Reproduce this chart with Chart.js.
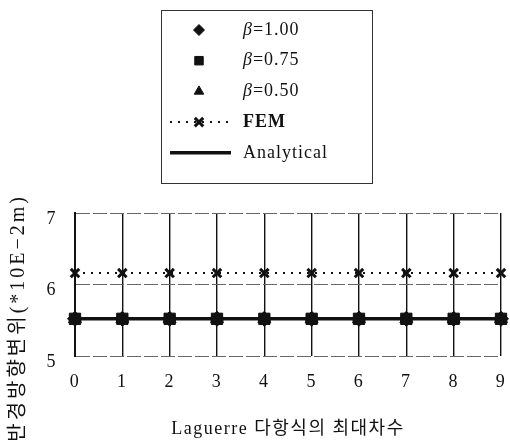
<!DOCTYPE html>
<html>
<head>
<meta charset="utf-8">
<script src="https://cdn.jsdelivr.net/npm/chart.js@4/dist/chart.umd.min.js"></script>
<style>
  html, body { margin: 0; padding: 0; background: #fff; }
  #wrap { width: 510px; height: 441px; position: relative; }
</style>
</head>
<body>
<div id="wrap"><canvas id="laguerreChart"></canvas></div>
<script>
// Laguerre 다항식 최대차수별 반경방향 변위
const orders = ['0', '1', '2', '3', '4', '5', '6', '7', '8', '9'];
const beta100 = [5.52, 5.52, 5.52, 5.52, 5.52, 5.52, 5.52, 5.52, 5.52, 5.52];
const beta075 = [5.52, 5.52, 5.52, 5.52, 5.52, 5.52, 5.52, 5.52, 5.52, 5.52];
const beta050 = [5.52, 5.52, 5.52, 5.52, 5.52, 5.52, 5.52, 5.52, 5.52, 5.52];
const fem = [6.16, 6.16, 6.16, 6.16, 6.16, 6.16, 6.16, 6.16, 6.16, 6.16];
const analytical = [5.52, 5.52, 5.52, 5.52, 5.52, 5.52, 5.52, 5.52, 5.52, 5.52];

const serif = '"Liberation Serif", "Noto Sans CJK KR", serif';

// legend drawn as a framed box above the plot
const boxLegend = {
    id: 'boxLegend',
    afterDraw(chart) {
        const ctx = chart.ctx;
        ctx.save();
        ctx.strokeStyle = '#333';
        ctx.lineWidth = 1;
        ctx.setLineDash([]);
        ctx.strokeRect(161.5, 10.5, 211, 173);

        chart.data.datasets.forEach((ds, i) => {
            const y = 30 + i * 30.7;
            if (ds.showLine !== false) {
                ctx.beginPath();
                ctx.strokeStyle = ds.borderColor;
                ctx.lineWidth = ds.borderWidth;
                ctx.setLineDash(ds.borderDash || []);
                ctx.moveTo(170, y);
                ctx.lineTo(231, y);
                ctx.stroke();
                ctx.setLineDash([]);
            }
            if (ds.pointRadius > 0) {
                ctx.fillStyle = ds.pointBackgroundColor;
                ctx.strokeStyle = ds.pointBorderColor;
                ctx.lineWidth = ds.pointBorderWidth;
                Chart.helpers.drawPoint(ctx, {
                    pointStyle: ds.pointStyle,
                    radius: ds.legendRadius,
                    rotation: 0,
                    borderWidth: ds.pointBorderWidth
                }, 199, y);
            }

            ctx.fillStyle = '#111';
            ctx.textBaseline = 'middle';
            ctx.textAlign = 'left';
            ctx.letterSpacing = '1px';
            let x = 243;
            let text = ds.label;
            if (text.startsWith('β')) {
                ctx.font = 'italic 18px ' + serif;
                ctx.fillText('β', x, y);
                x += ctx.measureText('β').width;
                text = text.slice(1);
                ctx.font = '18px ' + serif;
            } else if (text === 'FEM') {
                ctx.font = 'bold 18px ' + serif;
            } else {
                ctx.font = '18px ' + serif;
            }
            ctx.fillText(text, x, y);
        });
        ctx.restore();
    }
};

// vertical axis title, running up the left edge
const yTitle = {
    id: 'yTitle',
    afterDraw(chart) {
        const ctx = chart.ctx;
        ctx.save();
        ctx.translate(19, 194);
        ctx.rotate(-Math.PI / 2);
        ctx.font = '20px ' + serif;
        ctx.letterSpacing = '3px';
        ctx.fillStyle = '#111';
        ctx.textAlign = 'right';
        ctx.textBaseline = 'middle';
        ctx.fillText('반경방향변위(*10E−2m)', 0, 0);
        ctx.restore();
    }
};

const spacing = {
    id: 'spacing',
    beforeDraw(chart) { chart.ctx.letterSpacing = '1.5px'; },
    afterDraw(chart) { chart.ctx.letterSpacing = '0px'; }
};

const markerSet = (label, data, style, radius, legendRadius) => ({
    label: label,
    data: data,
    showLine: false,
    pointStyle: style,
    pointRadius: radius,
    legendRadius: legendRadius,
    pointBackgroundColor: '#111',
    pointBorderColor: '#111',
    pointBorderWidth: 1,
    clip: false
});

new Chart(document.getElementById('laguerreChart'), {
    type: 'line',
    data: {
        labels: orders,
        datasets: [
            markerSet('β=1.00', beta100, 'rectRot', 7.5, 5.5),
            markerSet('β=0.75', beta075, 'rect', 8, 6),
            markerSet('β=0.50', beta050, 'triangle', 7.5, 5.5),
            {
                label: 'FEM',
                data: fem,
                borderColor: '#111',
                borderWidth: 2,
                borderDash: [2, 6],
                pointStyle: 'crossRot',
                pointRadius: 6,
                legendRadius: 6,
                pointBackgroundColor: '#111',
                pointBorderColor: '#111',
                pointBorderWidth: 3,
                clip: false
            },
            {
                label: 'Analytical',
                data: analytical,
                borderColor: '#111',
                borderWidth: 3.5,
                pointRadius: 0,
                clip: false
            }
        ]
    },
    options: {
        responsive: true,
        maintainAspectRatio: false,
        animation: false,
        layout: {
            padding: { top: 213, right: 5, left: 0, bottom: 0 }
        },
        plugins: {
            legend: { display: false },
            tooltip: { enabled: false }
        },
        scales: {
            x: {
                afterFit: (scale) => {
                    scale.height = 85;
                    scale.paddingLeft = 0;
                    scale.paddingRight = 0;
                },
                grid: { color: '#111', lineWidth: 1.4, drawTicks: false },
                border: { display: false },
                ticks: {
                    color: '#111',
                    padding: 15,
                    maxRotation: 0,
                    font: { family: serif, size: 18 }
                },
                title: {
                    display: true,
                    text: 'Laguerre 다항식의 최대차수',
                    color: '#111',
                    padding: { top: 0, bottom: 1 },
                    font: { family: serif, size: 18 }
                }
            },
            y: {
                min: 5,
                max: 7,
                afterFit: (scale) => {
                    scale.width = 75;
                    scale.paddingTop = 0;
                    scale.paddingBottom = 0;
                },
                grid: { color: '#666', lineWidth: 1, drawTicks: false },
                border: { display: true, color: '#111', width: 2, dash: [14, 3] },
                ticks: {
                    stepSize: 1,
                    color: '#111',
                    padding: 18,
                    labelOffset: 6,
                    font: { family: serif, size: 18 }
                }
            }
        }
    },
    plugins: [boxLegend, yTitle, spacing]
});
</script>
</body>
</html>
